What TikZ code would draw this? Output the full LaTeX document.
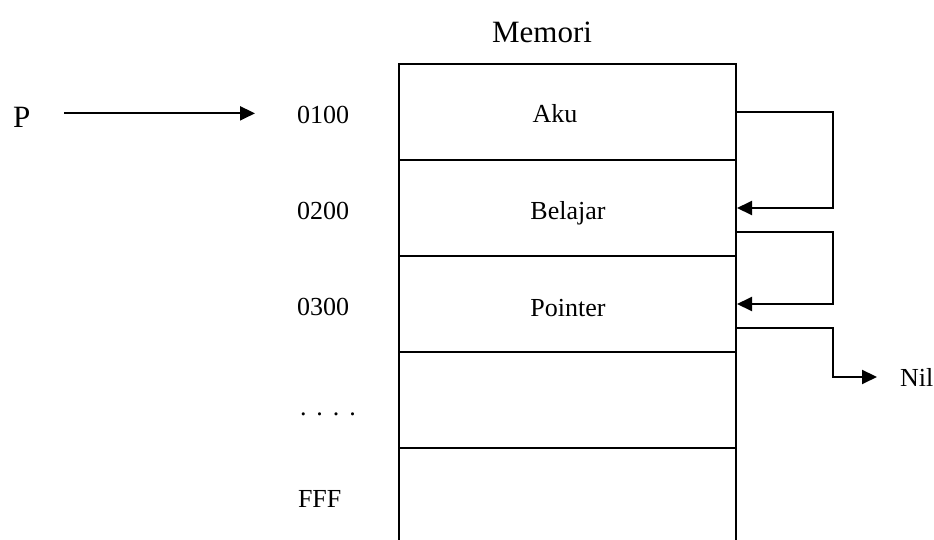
\documentclass[tikz,border=0pt]{standalone}
\usepackage{fontspec}
\setmainfont{Liberation Serif}
\usetikzlibrary{arrows.meta}
\begin{document}
\begin{tikzpicture}[x=1pt,y=-1pt,
  line width=2pt,
  cell/.style={draw, rectangle, minimum width=337pt, minimum height=96pt, inner sep=0pt},
  small/.style={font=\fontsize{26}{31}\selectfont, inner sep=0pt},
  big/.style={font=\fontsize{31}{36}\selectfont, inner sep=0pt},
  arr/.style={-{Triangle[length=15pt,width=14pt]}},
  link/.style={arr}]
\useasboundingbox (0,0) rectangle (934,539);

% memory column, the last cell runs off the bottom edge
\node[cell] (c1) at (567.5,112) {};
\node[cell] (c2) at (567.5,208) {};
\node[cell] (c3) at (567.5,304) {};
\node[cell] (c4) at (567.5,400) {};
\node[cell] (c5) at (567.5,496) {};

\node[big, anchor=base] (mem) at (542,42) {Memori};

% cell contents
\node[small, anchor=base] (t1) at (555,122) {Aku};
\node[small, anchor=base] (t2) at (568,219) {Belajar};
\node[small, anchor=base] (t3) at (568,316) {Pointer};

% addresses
\node[small, anchor=base west] (a1) at (296,123) {0100};
\node[small, anchor=base west] (a2) at (296,219) {0200};
\node[small, anchor=base west] (a3) at (296,315) {0300};
\node[small, anchor=base west] (a4) at (299,415) {.\hspace{10pt}.\hspace{10pt}.\hspace{10pt}.};
\node[small, anchor=base west] (a5) at (297,507) {FFF};

% pointer P
\node[big, anchor=base west] (p) at (12,127) {P};
\draw[arr, shorten <=33pt, shorten >=41pt]
  ([yshift=3.5pt]p.east) -- ([yshift=3.5pt]p.east -| a1.west);

% links between cells
\node[small, anchor=base west] (nil) at (899,386) {Nil};
\draw[link] (c1.east) -- ++(96,0) |- (c2.east);
\draw[link] ([yshift=-24pt]c2.east) -- ++(96,0) |- (c3.east);
\draw[link, shorten >=22pt] ([yshift=-24pt]c3.east) -- ++(96,0) |- (nil.west);
\end{tikzpicture}
\end{document}
